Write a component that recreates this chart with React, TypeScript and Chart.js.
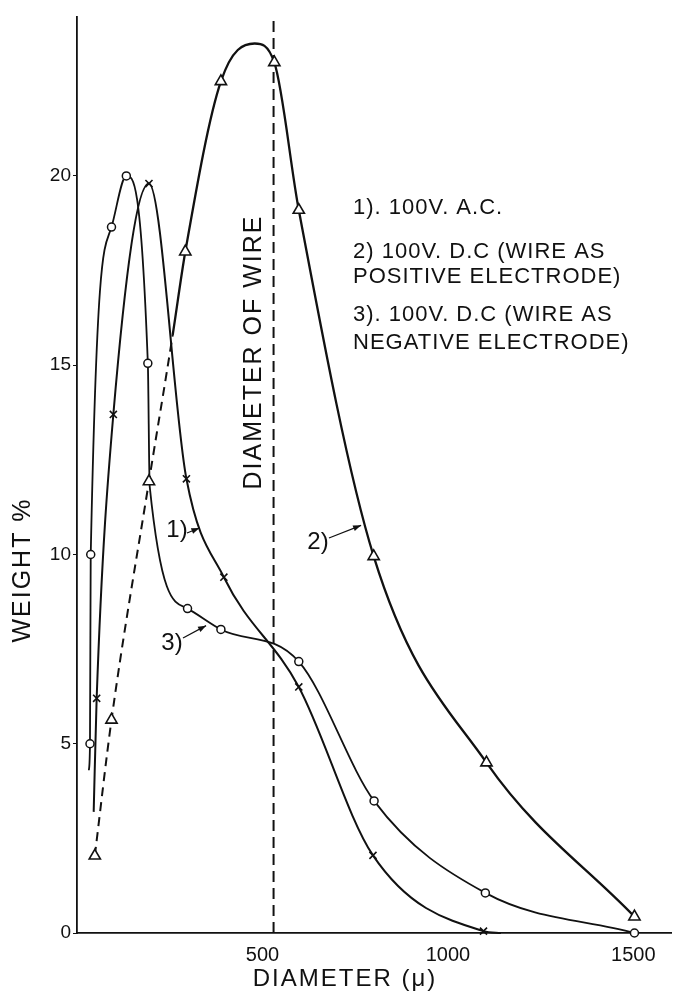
import React, { useEffect, useRef } from 'react';
import { Chart, registerables } from 'chart.js';

Chart.register(...registerables);

// ---- axes ----
const xTickValues = [500, 1000, 1500];
const yTickValues = [0, 5, 10, 15, 20];
const xMax = 1604;
const yMax = 24.2;

// ---- Series 1) 100V A.C. (x markers) ----
const acDiameter = [45, 53, 98, 194, 295, 396, 598, 798, 1096, 1143];
const acWeight = [3.2, 6.2, 13.7, 19.8, 12.0, 9.4, 6.5, 2.05, 0.05, 0];
const acMarked = [0, 1, 1, 1, 1, 1, 1, 1, 1, 0];

// ---- Series 2) 100V D.C. wire positive (triangles) ----
const posDiameter = [48, 93, 194, 258, 292, 388, 479, 532, 598, 800, 1104, 1503];
const posWeight = [2.04, 5.63, 11.93, 15.8, 18.0, 22.5, 23.5, 23.0, 19.1, 9.95, 4.5, 0.43];
const posMarked = [1, 1, 1, 0, 1, 1, 0, 1, 1, 1, 1, 1];
const posDashedSegments = 3;

// ---- Series 3) 100V D.C. wire negative (circles) ----
const negDiameter = [32, 35, 37, 93, 133, 191, 196, 298, 388, 598, 801, 1101, 1503];
const negWeight = [4.3, 5.0, 10.0, 18.65, 20.0, 15.05, 11.8, 8.57, 8.02, 7.17, 3.49, 1.06, 0.0];
const negMarked = [0, 1, 1, 1, 1, 1, 0, 1, 1, 1, 1, 1, 1];

// ---- diameter of wire ----
const wireDiameter = 530;

// ---- texts ----
const legendLines = [
  '1). 100V. A.C.',
  '2) 100V. D.C (WIRE AS',
  'POSITIVE ELECTRODE)',
  '3). 100V. D.C (WIRE AS',
  'NEGATIVE ELECTRODE)',
];
const wireLabel = 'DIAMETER OF WIRE';
const xTitle = 'DIAMETER (\u03BC)';
const yTitle = 'WEIGHT %';
const curveLabels = ['1)', '2)', '3)'];
// arrow targets on curves (data units)
const arrowTargetX = [330, 766, 348];
const arrowTargetY = [10.7, 10.77, 8.12];

const FONT = '"Liberation Sans", "DejaVu Sans", Arial, sans-serif';

const toPts = (xs: number[], ys: number[]) => xs.map((x, i) => ({ x, y: ys[i] }));

const annotPlugin = {
  id: 'annot',
  afterDatasetsDraw(chart: any) {
    const { ctx, scales } = chart;
    const xs = scales.x;
    const ys = scales.y;
    ctx.save();
    ctx.fillStyle = '#111';
    ctx.strokeStyle = '#111';

    // legend text block
    ctx.font = `22px ${FONT}`;
    ctx.textAlign = 'left';
    ctx.textBaseline = 'middle';
    (ctx as any).letterSpacing = '1px';
    const legendY = [208, 252, 277, 315, 343];
    legendLines.forEach((t, i) => ctx.fillText(t, 353, legendY[i]));

    // vertical wire label
    ctx.save();
    ctx.translate(254, 352);
    ctx.rotate(-Math.PI / 2);
    ctx.textAlign = 'center';
    ctx.font = `25px ${FONT}`;
    (ctx as any).letterSpacing = '2px';
    ctx.fillText(wireLabel, 0, 0);
    ctx.restore();

    // axis titles
    ctx.save();
    ctx.translate(23, 570);
    ctx.rotate(-Math.PI / 2);
    ctx.textAlign = 'center';
    ctx.font = `25px ${FONT}`;
    (ctx as any).letterSpacing = '2px';
    ctx.fillText(yTitle, 0, 0);
    ctx.restore();

    ctx.textAlign = 'center';
    ctx.font = `24px ${FONT}`;
    (ctx as any).letterSpacing = '2px';
    ctx.fillText(xTitle, 345, 979);

    // curve labels with arrows
    (ctx as any).letterSpacing = '0px';
    ctx.font = `24px ${FONT}`;
    const labelPos = [
      [177, 530, 187, 533],
      [318, 542, 329, 538],
      [172, 643, 183, 638],
    ];
    curveLabels.forEach((t, i) => {
      const [lx, ly, sx, sy] = labelPos[i];
      ctx.textAlign = 'center';
      ctx.fillText(t, lx, ly);
      const tx = xs.getPixelForValue(arrowTargetX[i]);
      const ty = ys.getPixelForValue(arrowTargetY[i]);
      ctx.lineWidth = 1.2;
      ctx.beginPath();
      ctx.moveTo(sx, sy);
      ctx.lineTo(tx, ty);
      ctx.stroke();
      const ang = Math.atan2(ty - sy, tx - sx);
      const L = 8, W = 3;
      ctx.beginPath();
      ctx.moveTo(tx, ty);
      ctx.lineTo(tx - L * Math.cos(ang) + W * Math.sin(ang), ty - L * Math.sin(ang) - W * Math.cos(ang));
      ctx.lineTo(tx - L * Math.cos(ang) - W * Math.sin(ang), ty - L * Math.sin(ang) + W * Math.cos(ang));
      ctx.closePath();
      ctx.fill();
    });
    ctx.restore();
  },
};

export default function App() {
  const ref = useRef<HTMLCanvasElement | null>(null);
  useEffect(() => {
    if (!ref.current) return;
    const chart = new Chart(ref.current, {
      type: 'line',
      data: {
        datasets: [
          {
            label: '1) 100V A.C.',
            data: toPts(acDiameter, acWeight),
            borderColor: '#111',
            borderWidth: 2,
            cubicInterpolationMode: 'monotone',
            pointStyle: 'crossRot',
            pointRadius: acMarked.map((m) => (m ? 5 : 0)),
            pointBorderWidth: 1.6,
            pointBorderColor: '#111',
            clip: false,
          },
          {
            label: '2) 100V D.C. (wire as positive electrode)',
            data: toPts(posDiameter, posWeight),
            borderColor: '#111',
            borderWidth: 2.3,
            cubicInterpolationMode: 'monotone',
            pointStyle: 'triangle',
            pointRadius: posMarked.map((m) => (m ? 6.5 : 0)),
            pointBorderWidth: 1.6,
            pointBorderColor: '#111',
            pointBackgroundColor: '#fff',
            segment: {
              borderDash: (c: any) => (c.p0DataIndex < posDashedSegments ? [9, 6] : undefined),
              borderWidth: (c: any) => (c.p0DataIndex < posDashedSegments ? 2 : 2.3),
            },
            clip: false,
          },
          {
            label: '3) 100V D.C. (wire as negative electrode)',
            data: toPts(negDiameter, negWeight),
            borderColor: '#111',
            borderWidth: 1.8,
            cubicInterpolationMode: 'monotone',
            pointStyle: 'circle',
            pointRadius: negMarked.map((m) => (m ? 4 : 0)),
            pointBorderWidth: 1.5,
            pointBorderColor: '#111',
            pointBackgroundColor: '#fff',
            clip: false,
          },
          {
            label: 'Diameter of wire',
            data: [
              { x: wireDiameter, y: 0 },
              { x: wireDiameter, y: yMax },
            ],
            borderColor: '#111',
            borderWidth: 2,
            borderDash: [11, 6],
            pointRadius: 0,
            clip: false,
          },
        ],
      },
      options: {
        animation: false,
        responsive: true,
        maintainAspectRatio: false,
        layout: { padding: { top: 17, right: 0, left: 0, bottom: 0 } },
        plugins: {
          legend: { display: false },
          tooltip: { enabled: false },
        },
        scales: {
          x: {
            type: 'linear',
            min: 0,
            max: xMax,
            afterFit: (s: any) => {
              s.height = 65;
            },
            afterBuildTicks: (s: any) => {
              s.ticks = xTickValues.map((v) => ({ value: v }));
            },
            grid: { display: false },
            border: { display: true, color: '#111', width: 1.8 },
            ticks: {
              color: '#111',
              font: { size: 20, family: FONT },
              padding: 2,
              maxRotation: 0,
              callback: (v: any) => String(v),
            },
          },
          y: {
            type: 'linear',
            min: 0,
            max: yMax,
            afterFit: (s: any) => {
              s.width = 77;
            },
            afterBuildTicks: (s: any) => {
              s.ticks = yTickValues.map((v) => ({ value: v }));
            },
            grid: {
              display: true,
              drawOnChartArea: false,
              drawTicks: true,
              tickLength: 4,
              color: '#111',
            },
            border: { display: true, color: '#111', width: 1.8 },
            ticks: {
              color: '#111',
              font: { size: 19, family: FONT },
              padding: 2,
              callback: (v: any) => String(v),
            },
          },
        },
      },
      plugins: [annotPlugin],
    } as any);
    return () => chart.destroy();
  }, []);

  return (
    <div style={{ position: 'absolute', left: 0, top: 0, width: 680, height: 998, background: '#fff' }}>
      <canvas ref={ref} />
    </div>
  );
}
